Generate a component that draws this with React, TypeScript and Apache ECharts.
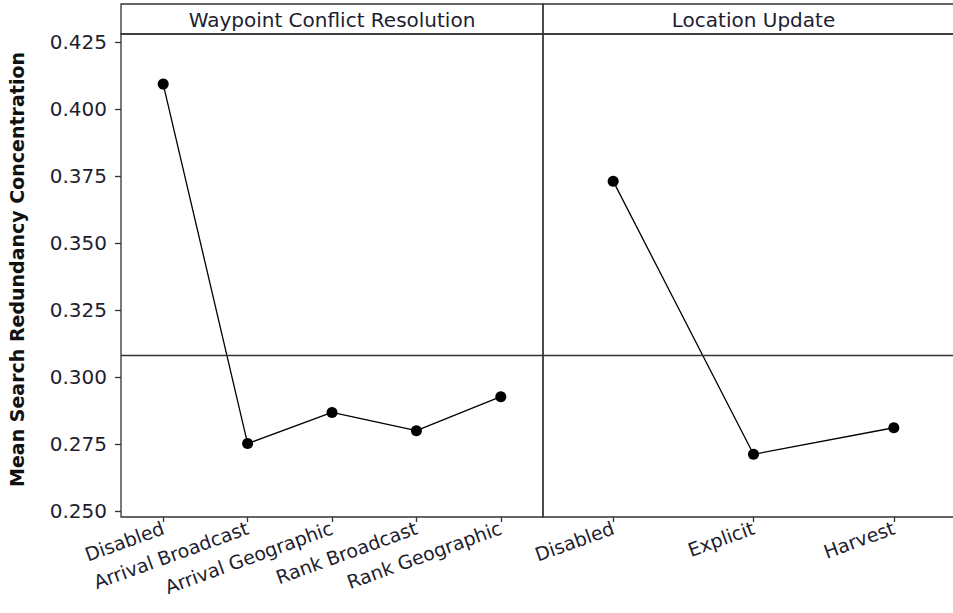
import React, { useEffect, useRef } from "react";
import * as echarts from "echarts";

const categoriesWCR = ["Disabled", "Arrival Broadcast", "Arrival Geographic", "Rank Broadcast", "Rank Geographic"];
const meansWCR = [0.4093, 0.2752, 0.2868, 0.28, 0.2927];
const categoriesLU = ["Disabled", "Explicit", "Harvest"];
const meansLU = [0.3731, 0.2712, 0.2811];
const overallMean = 0.3081;
const yTicks = [0.25, 0.275, 0.3, 0.325, 0.35, 0.375, 0.4, 0.425];
const panelTitles = ["Waypoint Conflict Resolution", "Location Update"];
const yTitle = "Mean Search Redundancy Concentration";

const FONT = "DejaVu Sans";
const TEXT = "#1e1e30";
const FRAME = "#333333";

export default function App() {
  const ref = useRef<HTMLDivElement>(null);
  useEffect(() => {
    if (!ref.current) return;
    const chart = echarts.init(ref.current, undefined, { renderer: "svg" });
    const yMin = 0.2478;
    const yMax = 0.428;
    const gridTop = 34;
    const gridH = 483;
    const grids = [
      { left: 121, top: gridTop, width: 422, height: gridH },
      { left: 543, top: gridTop, width: 421, height: gridH },
    ];
    const cats = [categoriesWCR, categoriesLU];
    const vals = [meansWCR, meansLU];
    chart.setOption({
      animation: false,
      backgroundColor: "#ffffff",
      textStyle: { fontFamily: FONT },
      grid: grids.map((g) => ({
        ...g,
        show: true,
        borderColor: FRAME,
        borderWidth: 1.3,
        backgroundColor: "transparent",
        containLabel: false,
      })),
      xAxis: cats.map((c, i) => ({
        type: "category",
        gridIndex: i,
        data: c,
        boundaryGap: true,
        axisLine: { show: false },
        axisTick: { show: true, alignWithLabel: true, length: 5, lineStyle: { color: FRAME, width: 1.3 } },
        axisLabel: {
          interval: 0,
          rotate: 20,
          margin: 10,
          fontSize: 19,
          color: TEXT,
          fontFamily: FONT,
        },
        splitLine: { show: false },
      })),
      yAxis: [0, 1].map((i) => ({
        type: "value",
        gridIndex: i,
        min: yMin,
        max: yMax,
        name: i === 0 ? yTitle : "",
        nameLocation: "middle",
        nameGap: 95,
        nameRotate: 90,
        nameTextStyle: {
          fontSize: 19,
          fontWeight: "bold",
          color: "#111",
          fontFamily: FONT,
          padding: [0, 0, 0, 12],
        },
        axisLine: { show: false },
        axisTick: {
          show: i === 0,
          length: 6,
          customValues: yTicks,
          lineStyle: { color: FRAME, width: 1.3 },
        },
        axisLabel: {
          show: i === 0,
          customValues: yTicks,
          formatter: (v: number) => v.toFixed(3),
          fontSize: 20,
          margin: 14,
          color: TEXT,
          fontFamily: FONT,
        },
        splitLine: { show: false },
      })),
      series: vals.map((v, i) => ({
        type: "line",
        xAxisIndex: i,
        yAxisIndex: i,
        data: v,
        symbol: "circle",
        symbolSize: 11,
        itemStyle: { color: "#000" },
        lineStyle: { color: "#000", width: 1.3 },
        markLine: {
          silent: true,
          symbol: "none",
          precision: 4,
          label: { show: false },
          lineStyle: { color: FRAME, type: "solid", width: 1.3 },
          data: [{ yAxis: overallMean }],
        },
      })),
      graphic: grids.flatMap((g, i) => [
        {
          type: "rect",
          shape: { x: g.left, y: 4, width: g.width, height: gridTop - 4 },
          style: { fill: "none", stroke: FRAME, lineWidth: 1.3 },
        },
        {
          type: "text",
          x: g.left + g.width / 2,
          y: (4 + gridTop) / 2 + 1,
          style: {
            text: panelTitles[i],
            fontSize: 20,
            fontFamily: FONT,
            fill: TEXT,
            textAlign: "center",
            textVerticalAlign: "middle",
          },
        },
      ]),
    });
    return () => chart.dispose();
  }, []);
  return (
    <div style={{ position: "absolute", left: 0, top: 0, width: 953, height: 613, overflow: "hidden", background: "#fff" }}>
      <div ref={ref} style={{ width: 990, height: 613 }} />
    </div>
  );
}
